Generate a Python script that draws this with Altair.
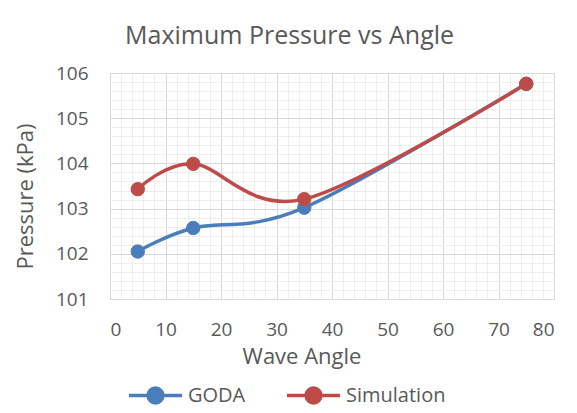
import altair as alt
import pandas as pd

angles = [5, 15, 35, 75]
goda = [102.05, 102.57, 103.02, 105.76]
simulation = [103.43, 103.99, 103.21, 105.76]
series_names = ["GODA", "Simulation"]
series_colors = ["#4A7EBB", "#BE4B48"]
x_major = [0, 10, 20, 30, 40, 50, 60, 70, 80]
x_minor = list(range(0, 81, 2))
y_major = [101, 102, 103, 104, 105, 106]
y_minor = [round(101 + 0.2 * i, 1) for i in range(26)]

rows = []
for a, v in zip(angles, goda):
    rows.append({"angle": a, "pressure": v, "series": "GODA"})
for a, v in zip(angles, simulation):
    rows.append({"angle": a, "pressure": v, "series": "Simulation"})
df = pd.DataFrame(rows)

FONT = "Open Sans"
TXT = "#595959"

xscale = alt.Scale(domain=[0, 80], nice=False)
yscale = alt.Scale(domain=[101, 106], nice=False)
cscale = alt.Scale(domain=series_names, range=series_colors)

legend_path = "M-1,0H1M-0.28,0A0.28,0.28,0,1,0,0.28,0A0.28,0.28,0,1,0,-0.28,0Z"


def make_legend():
    return alt.Legend(orient="none", direction="horizontal", title=None,
                      legendX=17, legendY=294, padding=0,
                      symbolType=legend_path, symbolSize=2809,
                      symbolStrokeWidth=3.5, labelFont=FONT,
                      labelFontSize=20, labelColor=TXT, labelOffset=4,
                      columnPadding=34)


line_layers = []
for i, (name, col) in enumerate(zip(series_names, series_colors)):
    if i == 0:
        xax = alt.Axis(orient="top", values=x_minor, grid=True, gridColor="#ededed",
                       gridWidth=1, labels=False, ticks=False, domain=False, title=None)
        yax = alt.Axis(orient="right", values=y_minor, grid=True, gridColor="#ededed",
                       gridWidth=1, labels=False, ticks=False, domain=False, title=None)
    else:
        xax = None
        yax = None
    line_layers.append(
        alt.Chart(df).transform_filter(alt.datum.series == name)
        .mark_line(interpolate="cardinal", tension=0, strokeWidth=3.5, color=col)
        .encode(
            x=alt.X("angle:Q", scale=xscale, axis=xax),
            y=alt.Y("pressure:Q", scale=yscale, axis=yax),
            order=alt.Order("angle:Q"),
        )
    )

points = alt.Chart(df).mark_point(filled=True, size=180, opacity=1, strokeWidth=1).encode(
    x=alt.X("angle:Q", scale=xscale,
            axis=alt.Axis(orient="bottom", values=x_major, grid=True, gridColor="#d9d9d9",
                          ticks=False, domain=True, domainColor="#d9d9d9",
                          labelFont=FONT, labelFontSize=19, labelColor=TXT, labelPadding=21,
                          title="Wave Angle", titleFont=FONT, titleFontSize=22,
                          titleFontWeight="normal", titleColor=TXT,
                          titleX=191.5, titleY=64, titleBaseline="alphabetic")),
    y=alt.Y("pressure:Q", scale=yscale,
            axis=alt.Axis(orient="left", values=y_major, grid=True, gridColor="#d9d9d9",
                          ticks=False, domain=False, format="d",
                          labelFont=FONT, labelFontSize=19, labelColor=TXT, labelPadding=22,
                          title="Pressure (kPa)", titleFont=FONT, titleFontSize=22,
                          titleFontWeight="normal", titleColor=TXT,
                          titleX=-78, titleY=123, titleBaseline="alphabetic")),
    color=alt.Color("series:N", scale=cscale, legend=make_legend()),
    stroke=alt.Stroke("series:N", scale=cscale, legend=make_legend()),
)

chart = alt.layer(*line_layers, points).resolve_axis(
    x="independent", y="independent"
).properties(
    width=444,
    height=226,
    autosize=alt.AutoSizeParams(type="none"),
    padding={"left": 102, "top": 65, "right": 15, "bottom": 106},
    title=alt.TitleParams("Maximum Pressure vs Angle", font=FONT, fontSize=25,
                          fontWeight="normal", color=TXT, anchor="start", frame="group",
                          dx=15, offset=15),
).configure_view(stroke="#d9d9d9", strokeWidth=1).configure(background="white")

chart.save("out.html", embed_options={"renderer": "svg", "actions": False})
